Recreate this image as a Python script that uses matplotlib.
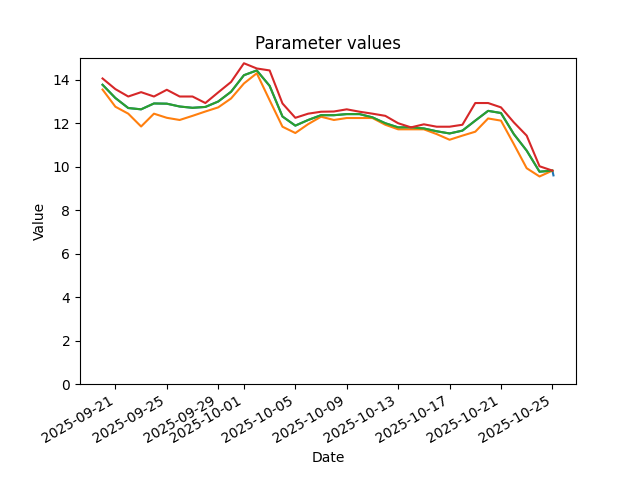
import pandas as pd
import matplotlib
matplotlib.use("Agg")
import matplotlib.pyplot as plt

# Daily values, 2025-09-20 .. 2025-10-25
dates = pd.date_range("2025-09-20", "2025-10-25", freq="D")

low = [13.55, 12.76, 12.44, 11.85, 12.44, 12.25, 12.15, 12.34, 12.54, 12.73,
       13.14, 13.83, 14.30, 13.06, 11.84, 11.55, 11.96, 12.30, 12.15, 12.24,
       12.24, 12.24, 11.93, 11.72, 11.72, 11.72, 11.50, 11.24, 11.43, 11.61,
       12.22, 12.12, 11.04, 9.93, 9.55, 9.82]
mid = [13.77, 13.16, 12.70, 12.64, 12.91, 12.90, 12.77, 12.71, 12.75, 13.00,
       13.45, 14.21, 14.43, 13.72, 12.31, 11.89, 12.15, 12.37, 12.37, 12.42,
       12.42, 12.27, 12.00, 11.81, 11.81, 11.76, 11.63, 11.53, 11.66, 12.12,
       12.57, 12.47, 11.50, 10.74, 9.77, 9.82]
high = [14.06, 13.57, 13.23, 13.43, 13.23, 13.54, 13.23, 13.23, 12.93, 13.42,
        13.90, 14.76, 14.52, 14.43, 12.91, 12.25, 12.44, 12.53, 12.54, 12.64,
        12.53, 12.44, 12.34, 12.00, 11.81, 11.95, 11.84, 11.84, 11.93, 12.93,
        12.93, 12.73, 12.04, 11.43, 10.02, 9.82]

# the "value" series sits under the others, only its last reading shows
value_dates = list(dates) + [pd.Timestamp("2025-10-25 02:00")]
value = mid + [9.60]

fig, ax = plt.subplots(figsize=(6.4, 4.8), dpi=100)
ax.plot(value_dates, value)
ax.plot(dates, low)
ax.plot(dates, mid)
ax.plot(dates, high)
ax.set_ylim(bottom=0)
ax.set_title("Parameter values")
ax.set_xlabel("Date")
ax.set_ylabel("Value")
fig.autofmt_xdate()
fig.savefig("out.png")
plt.close(fig)
